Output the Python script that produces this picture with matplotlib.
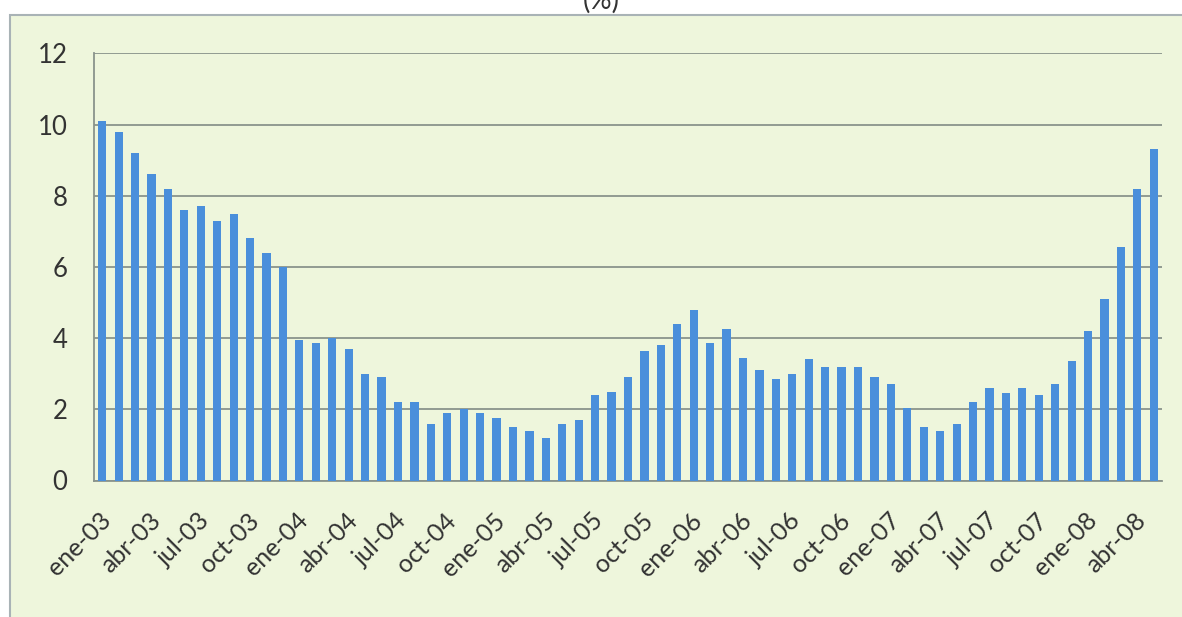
import matplotlib
matplotlib.use("Agg")
import matplotlib.pyplot as plt
import matplotlib.transforms as mtransforms
from matplotlib.patches import Rectangle

plt.rcParams['font.family'] = ['Lato', 'DejaVu Sans']

# monthly series, ene-03 .. may-08 (%)
months = ['ene', 'feb', 'mar', 'abr', 'may', 'jun',
          'jul', 'ago', 'sep', 'oct', 'nov', 'dic']
years = ['03', '04', '05', '06', '07', '08']
values = [10.1, 9.8, 9.2, 8.6, 8.2, 7.6, 7.7, 7.3, 7.5, 6.8, 6.4, 6.0,
          3.95, 3.85, 4.0, 3.7, 3.0, 2.9, 2.2, 2.2, 1.6, 1.9, 2.0, 1.9,
          1.75, 1.5, 1.4, 1.2, 1.6, 1.7, 2.4, 2.5, 2.9, 3.65, 3.8, 4.4,
          4.8, 3.85, 4.25, 3.45, 3.1, 2.85, 3.0, 3.4, 3.2, 3.2, 3.2, 2.9,
          2.7, 2.05, 1.5, 1.4, 1.6, 2.2, 2.6, 2.45, 2.6, 2.4, 2.7, 3.35,
          4.2, 5.1, 6.55, 8.2, 9.3]
labels = [m + '-' + y for y in years for m in months][:len(values)]

bg = '#eef6dc'
grid_c = '#8a948c'
text_c = '#333333'

fig = plt.figure(figsize=(11.82, 6.17), dpi=100)
fig.patch.set_facecolor('white')

# chart area panel
fig.patches.append(Rectangle((10 / 1182, -0.05), 1.0, 1.05 - 15 / 617,
                             transform=fig.transFigure, facecolor=bg,
                             edgecolor='#a9b3b6', linewidth=1.5, zorder=0))

fig.text(0.509, 1.0, '(%)', ha='center', va='center', fontsize=20, color=text_c)

ax = fig.add_axes([94 / 1182, 1 - 480.5 / 617, (1162 - 94) / 1182, (480.5 - 53.3) / 617])
ax.set_zorder(2)
ax.set_facecolor(bg)

x = list(range(len(values)))
ax.bar(x, values, width=0.5, color='#4a8fdb', zorder=3)

ax.set_xlim(-0.5, len(values) - 0.5)
ax.set_ylim(0, 12)
ax.set_yticks(range(0, 13, 2))
ax.yaxis.grid(True, color=grid_c, linewidth=1.3)
ax.set_axisbelow(True)

ax.set_xticks(x[::3])
ax.set_xticklabels(labels[::3], rotation=45, ha='right', va='center',
                   rotation_mode='anchor')
ax.tick_params(axis='x', length=0, pad=26, labelsize=18, labelcolor=text_c)
ax.tick_params(axis='y', length=0, pad=19, labelsize=18.5, labelcolor=text_c)

# nudge the slanted month labels a little to the right
shift = mtransforms.ScaledTranslation(5 / 100, 0, fig.dpi_scale_trans)
for lbl in ax.get_xticklabels():
    lbl.set_transform(lbl.get_transform() + shift)

for side in ['top', 'right']:
    ax.spines[side].set_visible(False)
for side in ['left', 'bottom']:
    ax.spines[side].set_color(grid_c)
    ax.spines[side].set_linewidth(1.3)

fig.savefig('out.png', dpi=100)
